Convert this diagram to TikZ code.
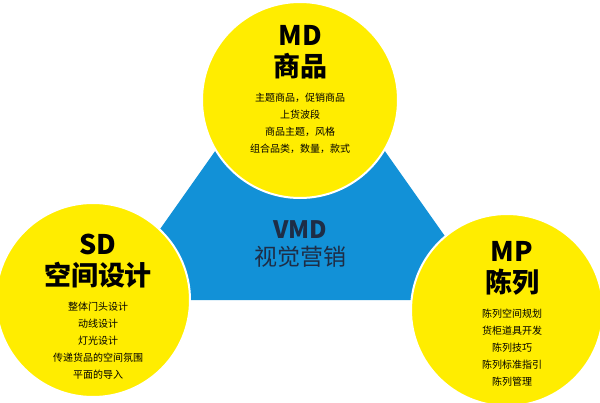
\documentclass[tikz,border=0pt]{standalone}
\usepackage{fontspec}
\setmainfont{Noto Sans CJK SC}
\usetikzlibrary{positioning}
\definecolor{vmdblue}{RGB}{18,145,215}
\definecolor{mdyellow}{RGB}{255,237,0}
\definecolor{vmdtext}{RGB}{30,45,70}
\tikzset{
  ball/.style={circle,fill=mdyellow,draw=white,line width=2pt,minimum size=#1},
  head/.style={font=\fontsize{27}{31}\selectfont\bfseries,align=center},
  items/.style={font=\fontsize{10}{17}\selectfont,align=center}
}
\begin{document}
\begin{tikzpicture}[x=1pt,y=-1pt]
\useasboundingbox (0,0) rectangle (600,402);
% blue area behind the three circles
\fill[vmdblue] (230,130) -- (370,130) -- (490,300) -- (110,300) -- cycle;
\node[text=vmdtext,font=\fontsize{24}{26}\selectfont\bfseries] (vmd) at (300,230) {VMD};
\node[below=0pt of vmd,text=vmdtext,font=\fontsize{23}{25}\selectfont] (vmdcn) {视觉营销};
% top circle
\node[ball=196pt] (md) at (300,100) {};
\node[head] (mdtitle) at (300,52) {MD\\商品};
\node[items,below=7pt of mdtitle] {主题商品，促销商品\\上货波段\\商品主题，风格\\组合品类，数量，款式};
% left circle
\node[ball=194pt] (sd) at (93,300) {};
\node[head] (sdtitle) at (98,261) {SD\\空间设计};
\node[items,below=7pt of sdtitle] {整体门头设计\\动线设计\\灯光设计\\传递货品的空间氛围\\平面的导入};
% right circle
\node[ball=192pt] (mp) at (507,310) {};
\node[head] (mptitle) at (512,268) {MP\\陈列};
\node[items,below=7pt of mptitle] {陈列空间规划\\货柜道具开发\\陈列技巧\\陈列标准指引\\陈列管理};
\end{tikzpicture}
\end{document}
